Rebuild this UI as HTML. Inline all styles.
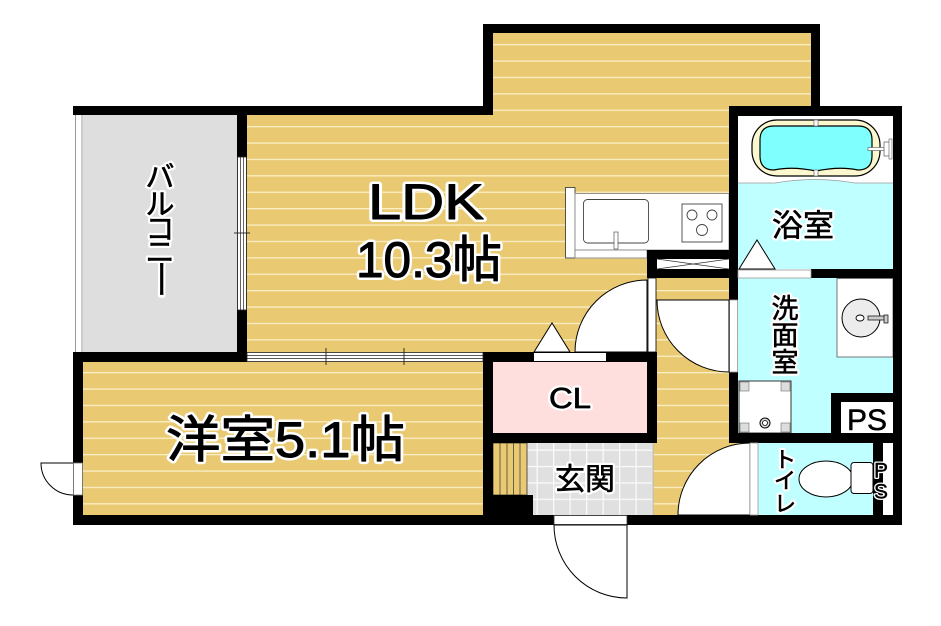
<!DOCTYPE html>
<html><head><meta charset="utf-8"><style>
html,body{margin:0;padding:0;background:#fff;width:941px;height:626px;overflow:hidden}
svg{display:block}
.w{font-family:"Liberation Sans","Noto Sans CJK JP",sans-serif;fill:#fff;stroke:#fff;stroke-width:6;stroke-linejoin:round}
.b{font-family:"Liberation Sans","Noto Sans CJK JP",sans-serif;fill:#000;stroke:#000;stroke-width:1;stroke-linejoin:round}
.jw{font-family:"Liberation Sans","Noto Sans CJK JP",sans-serif;fill:#fff;stroke:#fff;stroke-width:5;stroke-linejoin:round;text-anchor:middle;dominant-baseline:central}
.jb{font-family:"Liberation Sans","Noto Sans CJK JP",sans-serif;fill:#000;stroke:#000;stroke-width:0.6;stroke-linejoin:round;text-anchor:middle;dominant-baseline:central}
</style></head><body>
<svg width="941" height="626" viewBox="0 0 941 626" xmlns="http://www.w3.org/2000/svg">
<defs>
<pattern id="fl" patternUnits="userSpaceOnUse" x="0" y="44" width="20" height="16.4">
<rect width="20" height="16.4" fill="#e9c972"/>
<rect width="20" height="1.3" fill="#fbefc6"/>
</pattern>
<pattern id="tl" patternUnits="userSpaceOnUse" x="536.5" y="449.5" width="16.5" height="16.4">
<rect width="16.5" height="16.4" fill="#e0e0e0"/>
<rect width="1.3" height="16.4" fill="#fafafa"/>
<rect width="16.5" height="1.3" fill="#fafafa"/>
</pattern>
</defs>
<rect width="941" height="626" fill="#fff"/>

<!-- floors -->
<rect x="483" y="24" width="337" height="96" fill="url(#fl)"/>
<rect x="247" y="106" width="482" height="250" fill="url(#fl)"/>
<rect x="647" y="270" width="103" height="250" fill="url(#fl)"/>
<rect x="83" y="356" width="404" height="164" fill="url(#fl)"/>

<!-- balcony -->
<rect x="83" y="115" width="154" height="237" fill="#dedede"/>
<rect x="73" y="115" width="10" height="237" fill="#fff"/>
<line x1="75.5" y1="115" x2="75.5" y2="352" stroke="#999" stroke-width="1"/>
<line x1="82" y1="115" x2="82" y2="352" stroke="#999" stroke-width="1"/>

<!-- bath -->
<rect x="738" y="116" width="155" height="153" fill="#fff"/>
<path d="M738,183 L775,183 Q815,176 855,183 L893,183 L893,269 L738,269 Z" fill="#c0ffff"/>
<path d="M738,183 L775,183 Q815,176 855,183 L893,183" fill="none" stroke="#999" stroke-width="0.8"/>
<rect x="752" y="120" width="128" height="56" rx="25" fill="#fbf8d0" stroke="#000" stroke-width="1.2"/>
<path d="M774,126 L858,126 Q872,126 872,140 L872,156 Q872,170 858,170 Q840,166 816,171 Q792,166 774,170 Q760,170 760,156 L760,140 Q760,126 774,126 Z" fill="#80ffff" stroke="#000" stroke-width="1.2"/>
<rect x="814" y="120" width="4" height="6" fill="#fff" stroke="#555" stroke-width="0.6"/>
<rect x="814" y="170" width="4" height="6" fill="#fff" stroke="#555" stroke-width="0.6"/>
<rect x="868" y="147.5" width="18" height="3" fill="#fff" stroke="#555" stroke-width="0.6"/>
<rect x="884" y="142" width="7" height="14" fill="#fff" stroke="#555" stroke-width="0.7"/>
<rect x="889" y="139" width="3" height="20" fill="#fff" stroke="#555" stroke-width="0.6"/>
<path d="M739,269 L757,240 L775,269 Z" fill="#fff" stroke="#000" stroke-width="1"/>

<!-- washroom -->
<rect x="738" y="278" width="155" height="155" fill="#c0ffff"/>
<rect x="837" y="278.5" width="56" height="78.5" fill="#fff" stroke="#555" stroke-width="0.8"/>
<circle cx="861" cy="318" r="19" fill="#ececec" stroke="#000" stroke-width="1"/>
<ellipse cx="860" cy="318" rx="4" ry="3" fill="#fff" stroke="#000" stroke-width="0.9"/>
<rect x="868" y="316" width="17" height="4" fill="#ccc" stroke="#000" stroke-width="0.7"/>
<rect x="884" y="315" width="4" height="8" fill="#ccc" stroke="#000" stroke-width="0.7"/>
<rect x="739" y="381" width="52" height="52" fill="#fff" stroke="#333" stroke-width="1"/>
<rect x="740" y="382" width="9" height="9" fill="#ddd" stroke="#555" stroke-width="0.5"/>
<rect x="781" y="382" width="9" height="9" fill="#ddd" stroke="#555" stroke-width="0.5"/>
<rect x="740" y="423" width="9" height="9" fill="#ddd" stroke="#555" stroke-width="0.5"/>
<rect x="781" y="423" width="9" height="9" fill="#ddd" stroke="#555" stroke-width="0.5"/>
<circle cx="765" cy="423" r="5" fill="#ddd" stroke="#000" stroke-width="1"/>
<circle cx="765" cy="423" r="2.5" fill="#fff" stroke="#000" stroke-width="0.8"/>

<!-- toilet -->
<rect x="758" y="443" width="115" height="72" fill="#c0ffff"/>
<ellipse cx="826" cy="479" rx="27" ry="18" fill="#fff" stroke="#000" stroke-width="1"/>
<rect x="851" y="462.5" width="22" height="31" rx="3" fill="#fff" stroke="#000" stroke-width="1"/>

<!-- genkan -->
<rect x="493" y="443" width="160" height="72" fill="url(#tl)"/>
<line x1="653" y1="443" x2="653" y2="515" stroke="#bbb" stroke-width="1.2"/>
<rect x="493" y="443" width="34" height="52" fill="#e9c972" stroke="#333" stroke-width="0.8"/>
<line x1="500" y1="443" x2="500" y2="495" stroke="#333" stroke-width="0.7"/>
<line x1="507" y1="443" x2="507" y2="495" stroke="#333" stroke-width="0.7"/>
<line x1="513.5" y1="443" x2="513.5" y2="495" stroke="#333" stroke-width="0.7"/>
<line x1="520" y1="443" x2="520" y2="495" stroke="#333" stroke-width="0.7"/>

<!-- kitchen -->
<rect x="565.5" y="187.5" width="9.5" height="70.5" fill="#fff" stroke="#444" stroke-width="0.9"/>
<rect x="575" y="193.5" width="154" height="56.5" fill="#fff" stroke="#888" stroke-width="0.9"/>
<rect x="575" y="250" width="72" height="8" fill="#fff" stroke="#888" stroke-width="0.9"/>
<rect x="583.5" y="199.5" width="65" height="43.5" rx="4" fill="#fff" stroke="#444" stroke-width="0.9"/>
<rect x="614" y="232" width="4" height="17" fill="#fff" stroke="#555" stroke-width="0.7"/>
<rect x="682" y="204" width="40" height="38" fill="#fff" stroke="#444" stroke-width="0.9"/>
<circle cx="692" cy="215" r="5" fill="#fff" stroke="#444" stroke-width="0.9"/>
<circle cx="712" cy="215" r="5" fill="#fff" stroke="#444" stroke-width="0.9"/>
<circle cx="702" cy="230" r="5.5" fill="#fff" stroke="#444" stroke-width="0.9"/>

<!-- CL -->
<rect x="483" y="352" width="174" height="91" fill="#000"/>
<rect x="493" y="362" width="154" height="71" fill="#ffdede"/>

<!-- walls -->
<g fill="#000">
<rect x="483" y="24" width="337" height="9"/>
<rect x="483" y="24" width="10" height="91"/>
<rect x="811" y="24" width="9" height="92"/>
<rect x="73" y="106" width="420" height="9"/>
<rect x="729" y="106" width="173" height="10"/>
<rect x="729" y="106" width="9" height="194"/>
<rect x="893" y="106" width="9" height="419"/>
<rect x="811" y="269" width="91" height="9"/>
<rect x="647" y="250" width="82" height="28"/>
<rect x="729" y="372" width="9" height="71"/>
<rect x="729" y="433" width="173" height="10"/>
<rect x="237" y="106" width="10" height="256"/>
<rect x="73" y="352" width="174" height="10"/>
<rect x="73" y="352" width="10" height="173"/>
<rect x="73" y="515" width="829" height="10"/>
<rect x="483" y="443" width="10" height="82"/>
<rect x="483" y="495" width="50" height="30"/>
<rect x="873" y="443" width="10" height="72"/>
<rect x="831" y="393" width="62" height="40"/>
</g>
<rect x="841" y="402" width="52" height="31" fill="#fff"/>
<rect x="883" y="443" width="10" height="72" fill="#fff"/>

<!-- X box -->
<rect x="657" y="259" width="72" height="10" fill="#fff"/>
<path d="M657,259 L729,269 M657,269 L729,259" stroke="#333" stroke-width="0.8"/>

<!-- openings / windows -->
<rect x="738" y="270" width="73" height="8" fill="#fff" stroke="#999" stroke-width="0.8"/>
<rect x="729.5" y="300" width="8" height="72" fill="#fff" stroke="#999" stroke-width="0.8"/>
<rect x="534" y="353" width="72" height="8" fill="#fff"/>
<rect x="247" y="352.5" width="236" height="9" fill="#fff" stroke="#222" stroke-width="0.8"/>
<line x1="247" y1="355.5" x2="483" y2="355.5" stroke="#222" stroke-width="0.7"/>
<line x1="247" y1="358.5" x2="483" y2="358.5" stroke="#222" stroke-width="0.7"/>
<line x1="326" y1="348" x2="326" y2="365" stroke="#222" stroke-width="0.9"/>
<line x1="404" y1="348" x2="404" y2="365" stroke="#222" stroke-width="0.9"/>
<rect x="237.5" y="157" width="9" height="153" fill="#fff" stroke="#222" stroke-width="0.8"/>
<line x1="240.5" y1="157" x2="240.5" y2="310" stroke="#222" stroke-width="0.7"/>
<line x1="243.5" y1="157" x2="243.5" y2="310" stroke="#222" stroke-width="0.7"/>
<line x1="234" y1="233" x2="250" y2="233" stroke="#222" stroke-width="0.9"/>
<rect x="73.5" y="463" width="9" height="32" fill="#fff" stroke="#777" stroke-width="0.8"/>
<rect x="554" y="515.5" width="73" height="9" fill="#fff" stroke="#333" stroke-width="0.8"/>

<!-- doors -->
<path d="M647,352 L575,352 A72,72 0 0 1 647,280 Z" fill="#fff" stroke="#000" stroke-width="1"/>
<rect x="648" y="278" width="8" height="74" fill="#fff" stroke="#000" stroke-width="0.8"/>
<path d="M729,300 L657,300 A72,72 0 0 0 729,372 Z" fill="#fff" stroke="#000" stroke-width="1"/>
<path d="M750,515 L750,443 A72,72 0 0 0 678,515 Z" fill="#fff" stroke="#000" stroke-width="1"/>
<rect x="750" y="443" width="8" height="72" fill="#fff" stroke="#999" stroke-width="0.8"/>
<path d="M627,525 L554,525 A73,73 0 0 0 627,598 Z" fill="#fff" stroke="#000" stroke-width="1"/>
<path d="M73,463 L41,463 A32,32 0 0 0 73,495" fill="#fff" stroke="#000" stroke-width="1"/>
<path d="M534,352 L552,323 L570,352 Z" fill="#fff" stroke="#000" stroke-width="1"/>

<!-- labels: white halo layer -->
<g class="w">
<text x="426" y="219" font-size="50" text-anchor="middle" textLength="116" lengthAdjust="spacingAndGlyphs">LDK</text>
<text x="429" y="277" font-size="50" text-anchor="middle" textLength="146" lengthAdjust="spacingAndGlyphs">10.3帖</text>
<text x="166" y="457" font-size="50" textLength="239" lengthAdjust="spacingAndGlyphs">洋室5.1帖</text>
<text x="570" y="408" font-size="29" text-anchor="middle" textLength="42" lengthAdjust="spacingAndGlyphs" style="stroke-width:5">CL</text>
</g>
<g class="b">
<text x="426" y="219" font-size="50" text-anchor="middle" textLength="116" lengthAdjust="spacingAndGlyphs">LDK</text>
<text x="429" y="277" font-size="50" text-anchor="middle" textLength="146" lengthAdjust="spacingAndGlyphs">10.3帖</text>
<text x="166" y="457" font-size="50" textLength="239" lengthAdjust="spacingAndGlyphs">洋室5.1帖</text>
<text x="570" y="408" font-size="29" text-anchor="middle" textLength="42" lengthAdjust="spacingAndGlyphs" style="stroke-width:0.7">CL</text>
</g>

<g class="jw">
<text x="585" y="480" font-size="30">玄関</text>
<text x="803" y="226" font-size="31">浴室</text>
<text x="160" y="178" font-size="29">バ</text>
<text x="160" y="205" font-size="29">ル</text>
<text x="160" y="230" font-size="29">コ</text>
<text x="160" y="253" font-size="29">ニ</text>
<text x="160" y="279" font-size="29" transform="translate(160 279) rotate(90) scale(1.35 1) translate(-160 -279)">ー</text>
<text x="785" y="309" font-size="27">洗</text>
<text x="785" y="336" font-size="27">面</text>
<text x="785" y="363" font-size="27">室</text>
<text x="785" y="460" font-size="22">ト</text>
<text x="785" y="481" font-size="22">イ</text>
<text x="785" y="504" font-size="22">レ</text>
<text x="881" y="471" font-size="21" style="stroke-width:3">P</text>
<text x="881" y="492" font-size="21" style="stroke-width:3">S</text>
</g>
<g class="jb">
<text x="585" y="480" font-size="30">玄関</text>
<text x="803" y="226" font-size="31">浴室</text>
<text x="160" y="178" font-size="29">バ</text>
<text x="160" y="205" font-size="29">ル</text>
<text x="160" y="230" font-size="29">コ</text>
<text x="160" y="253" font-size="29">ニ</text>
<text x="160" y="279" font-size="29" transform="translate(160 279) rotate(90) scale(1.35 1) translate(-160 -279)">ー</text>
<text x="785" y="309" font-size="27">洗</text>
<text x="785" y="336" font-size="27">面</text>
<text x="785" y="363" font-size="27">室</text>
<text x="785" y="460" font-size="22">ト</text>
<text x="785" y="481" font-size="22">イ</text>
<text x="785" y="504" font-size="22">レ</text>
<text x="881" y="471" font-size="21" style="stroke-width:0.4">P</text>
<text x="881" y="492" font-size="21" style="stroke-width:0.4">S</text>
</g>
<text x="867" y="430" font-size="30" text-anchor="middle" textLength="40" lengthAdjust="spacingAndGlyphs" style="font-family:'Liberation Sans',sans-serif;fill:#000;stroke:#000;stroke-width:0.5">PS</text>
</svg>
</body></html>
